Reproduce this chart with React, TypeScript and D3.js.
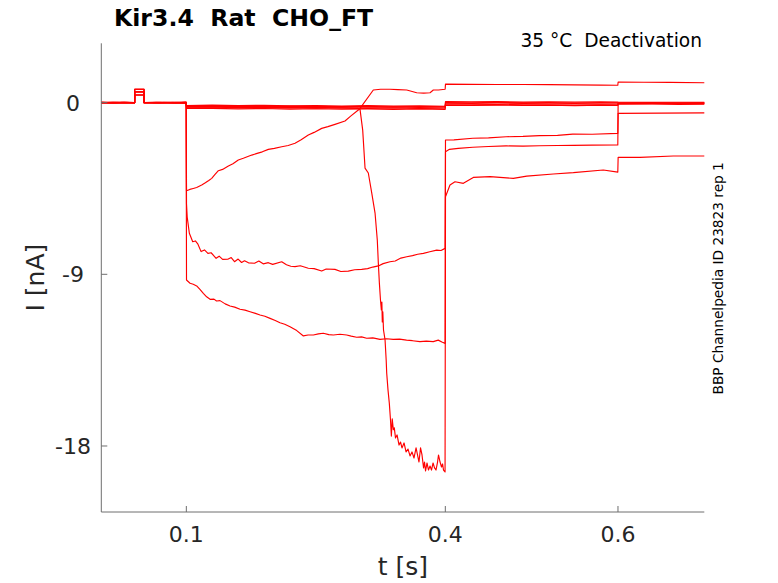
import React from "react";
import * as d3 from "d3";

// ---- data (t in s, I in nA) ----
const xTicks = [0.1, 0.4, 0.6];
const yTicks = [-18, -9, 0];

const trace1: [number, number][] = [
  [0.0015, 0.01], [0.012, -0.02], [0.025, 0.02], [0.0401, 0.0], [0.0402, 0.7], [0.051, 0.7], [0.0511, 0.01],
  [0.062, -0.02], [0.075, 0.02], [0.088, -0.01], [0.0998, 0.01],
  [0.1002, -4.62], [0.104, -4.55], [0.108, -4.5], [0.112, -4.45], [0.1178, -4.32], [0.122, -4.2], [0.126, -4.08],
  [0.1294, -3.97], [0.133, -3.78], [0.1371, -3.57], [0.142, -3.5], [0.1487, -3.32], [0.154, -3.2], [0.1602, -3.01],
  [0.166, -2.92], [0.1758, -2.75], [0.182, -2.66], [0.188, -2.58], [0.195, -2.45], [0.202, -2.4], [0.2105, -2.31],
  [0.218, -2.25], [0.2259, -2.13], [0.233, -1.95], [0.2413, -1.7], [0.248, -1.56], [0.2568, -1.35], [0.264, -1.26],
  [0.2722, -1.14], [0.2838, -0.96], [0.29, -0.72], [0.2992, -0.39], [0.3012, -0.3], [0.3166, 0.66], [0.325, 0.7],
  [0.3359, 0.7], [0.345, 0.68], [0.3553, 0.66], [0.3669, 0.52], [0.375, 0.5], [0.3823, 0.52], [0.3861, 0.66],
  [0.392, 0.66], [0.3998, 0.7],
  [0.4002, 0.97], [0.43, 0.96], [0.46, 0.95], [0.49, 0.95], [0.52, 0.94], [0.55, 0.93], [0.58, 0.92], [0.5998, 0.91],
  [0.6002, 1.08], [0.63, 1.07], [0.66, 1.06], [0.7, 1.04],
];

const traceB: [number, number][] = [
  [0.0015, -0.01], [0.015, 0.02], [0.03, -0.01], [0.0401, 0.01], [0.0402, 0.56], [0.051, 0.56], [0.0511, 0.0],
  [0.065, 0.02], [0.08, -0.02], [0.0998, 0.0],
  [0.1002, -5.3], [0.101, -6.0], [0.1035, -6.85], [0.1074, -7.29], [0.1105, -7.25], [0.1132, -7.4], [0.1171, -7.81],
  [0.121, -7.72], [0.125, -7.9], [0.1287, -7.87], [0.1345, -8.16], [0.138, -8.05], [0.142, -8.22], [0.148, -8.21],
  [0.152, -8.12], [0.1558, -8.34], [0.16, -8.2], [0.164, -8.38], [0.1674, -8.29], [0.172, -8.4], [0.179, -8.42],
  [0.184, -8.3], [0.189, -8.45], [0.195, -8.39], [0.2, -8.48], [0.2105, -8.34], [0.216, -8.5], [0.221, -8.58],
  [0.2259, -8.6], [0.232, -8.55], [0.2413, -8.68], [0.248, -8.7], [0.2568, -8.83], [0.262, -8.72], [0.2722, -8.74],
  [0.279, -8.85], [0.2876, -8.83], [0.295, -8.76], [0.3031, -8.74], [0.31, -8.7], [0.316, -8.62], [0.3224, -8.56],
  [0.328, -8.44], [0.3359, -8.34], [0.342, -8.3], [0.3485, -8.15], [0.3553, -8.08], [0.362, -8.02], [0.368, -7.95],
  [0.3746, -7.9], [0.382, -7.82], [0.39, -7.73], [0.395, -7.75], [0.3998, -7.64],
  [0.4002, -1.96], [0.41, -1.95], [0.4318, -1.87], [0.45, -1.85], [0.4705, -1.79], [0.49, -1.77], [0.5091, -1.73],
  [0.53, -1.72], [0.5477, -1.65], [0.57, -1.66], [0.5998, -1.61],
  [0.6002, -0.03], [0.65, -0.04], [0.7, -0.02],
];

const traceA: [number, number][] = [
  [0.0015, 0.0], [0.014, -0.02], [0.028, 0.01], [0.0401, -0.01], [0.0402, 0.4], [0.051, 0.4], [0.0511, 0.01],
  [0.068, -0.01], [0.084, 0.02], [0.0998, -0.01],
  [0.1002, -9.3], [0.1043, -9.47], [0.108, -9.52], [0.112, -9.61], [0.116, -9.8], [0.1197, -10.0], [0.1235, -10.18],
  [0.1275, -10.31], [0.132, -10.3], [0.135, -10.4], [0.139, -10.38], [0.145, -10.55], [0.1506, -10.66], [0.156, -10.72],
  [0.1622, -10.83], [0.168, -10.88], [0.1738, -10.96], [0.18, -11.05], [0.1854, -11.13], [0.191, -11.2], [0.197, -11.31],
  [0.203, -11.42], [0.2085, -11.54], [0.214, -11.62], [0.2201, -11.75], [0.2279, -11.95], [0.2356, -12.23],
  [0.241, -12.18], [0.2471, -12.18], [0.253, -12.12], [0.2587, -12.09], [0.265, -12.16], [0.2703, -12.18],
  [0.278, -12.14], [0.2857, -12.18], [0.291, -12.24], [0.2973, -12.3], [0.303, -12.28], [0.3089, -12.35],
  [0.316, -12.33], [0.3243, -12.41], [0.332, -12.38], [0.3397, -12.41], [0.347, -12.4], [0.3551, -12.45],
  [0.362, -12.48], [0.3706, -12.53], [0.378, -12.5], [0.386, -12.53], [0.3918, -12.45], [0.396, -12.55], [0.3998, -12.62],
  [0.4002, -2.57], [0.4048, -2.45], [0.415, -2.4], [0.4318, -2.34], [0.45, -2.3], [0.4705, -2.27], [0.49, -2.28],
  [0.5091, -2.26], [0.53, -2.25], [0.5477, -2.24], [0.57, -2.23], [0.5998, -2.22],
  [0.6002, -0.56], [0.65, -0.55], [0.7, -0.54],
];

const traceC: [number, number][] = [
  [0.0015, 0.02], [0.016, -0.01], [0.03, 0.01], [0.0401, 0.0], [0.0402, 0.7], [0.051, 0.7], [0.0511, -0.01],
  [0.07, 0.01], [0.085, -0.02], [0.0998, 0.01],
  [0.1002, -0.24], [0.13, -0.22], [0.16, -0.26], [0.19, -0.24], [0.22, -0.27], [0.25, -0.25], [0.28, -0.28], [0.2985, -0.3],
  [0.3012, -0.35], [0.3043, -1.44], [0.307, -3.43], [0.3108, -3.69], [0.3148, -4.74], [0.3186, -5.79], [0.3212, -7.2],
  [0.3224, -8.41], [0.3236, -9.45], [0.3249, -10.35], [0.3259, -10.87], [0.3265, -10.45], [0.327, -11.5], [0.3276, -10.97],
  [0.3284, -11.92], [0.3302, -12.44], [0.3315, -13.49], [0.3321, -14.17], [0.3336, -15.06], [0.3351, -15.74],
  [0.3365, -16.64], [0.3375, -17.48], [0.3385, -16.58], [0.3398, -17.15], [0.3409, -17.05], [0.3423, -17.58],
  [0.3441, -17.42], [0.3464, -17.95], [0.3481, -17.79], [0.3498, -18.1], [0.3522, -17.84], [0.3545, -18.31],
  [0.3568, -18.16], [0.3591, -18.52], [0.3614, -18.31], [0.3637, -18.63], [0.3661, -18.1], [0.3678, -18.47],
  [0.3695, -18.84], [0.3713, -18.1], [0.373, -18.47], [0.3748, -19.15], [0.3759, -18.84], [0.3771, -19.31],
  [0.3788, -18.89], [0.3805, -19.26], [0.3823, -19.05], [0.384, -19.26], [0.3858, -18.89], [0.3875, -19.15],
  [0.3892, -19.26], [0.391, -18.84], [0.3921, -18.47], [0.3939, -18.84], [0.3956, -19.1], [0.3968, -18.94],
  [0.3979, -19.26], [0.3997, -19.36],
  [0.4002, -4.93], [0.4054, -4.32], [0.4112, -4.15], [0.4209, -4.23], [0.4324, -3.92], [0.4518, -3.88],
  [0.4788, -3.97], [0.4943, -3.85], [0.5251, -3.74], [0.5483, -3.67], [0.583, -3.53], [0.5998, -3.64],
  [0.6002, -2.87], [0.6255, -2.87], [0.6641, -2.8], [0.7, -2.8],
];

const bundle1: [number, number][] = [
  [0.0015, 0.0], [0.02, 0.02], [0.0401, 0.0], [0.0402, 0.7], [0.051, 0.7], [0.0511, 0.01], [0.07, -0.01], [0.0998, 0.02],
  [0.1002, -0.15], [0.13, -0.13], [0.16, -0.16], [0.19, -0.14], [0.22, -0.17], [0.25, -0.15], [0.28, -0.18], [0.31, -0.16],
  [0.34, -0.18], [0.37, -0.17], [0.3998, -0.19],
  [0.4002, 0.05], [0.43, 0.04], [0.46, 0.05], [0.49, 0.03], [0.52, 0.04], [0.55, 0.03], [0.58, 0.04], [0.5998, 0.03],
  [0.6002, 0.02], [0.64, 0.01], [0.67, 0.02], [0.7, 0.01],
];

const bundle2: [number, number][] = [
  [0.0015, -0.02], [0.02, 0.0], [0.0401, -0.01], [0.0402, 0.56], [0.051, 0.56], [0.0511, 0.0], [0.07, 0.02], [0.0998, -0.01],
  [0.1002, -0.2], [0.13, -0.22], [0.16, -0.19], [0.19, -0.22], [0.22, -0.2], [0.25, -0.23], [0.28, -0.21], [0.31, -0.24],
  [0.34, -0.22], [0.37, -0.25], [0.3998, -0.23],
  [0.4002, 0.0], [0.43, -0.01], [0.46, 0.01], [0.49, -0.01], [0.52, 0.0], [0.55, -0.02], [0.58, 0.0], [0.5998, -0.01],
  [0.6002, -0.02], [0.64, -0.03], [0.67, -0.02], [0.7, -0.03],
];

const bundle3: [number, number][] = [
  [0.0015, 0.01], [0.02, -0.01], [0.0401, 0.01], [0.0402, 0.4], [0.051, 0.4], [0.0511, -0.01], [0.07, 0.0], [0.0998, 0.01],
  [0.1002, -0.26], [0.13, -0.28], [0.16, -0.25], [0.19, -0.28], [0.22, -0.26], [0.25, -0.29], [0.28, -0.27], [0.31, -0.3],
  [0.34, -0.28], [0.37, -0.31], [0.3998, -0.29],
  [0.4002, -0.06], [0.43, -0.05], [0.46, -0.07], [0.49, -0.05], [0.52, -0.06], [0.55, -0.05], [0.58, -0.07], [0.5998, -0.06],
  [0.6002, -0.05], [0.64, -0.06], [0.67, -0.05], [0.7, -0.06],
];

const bundle4: [number, number][] = [
  [0.0015, 0.0], [0.02, 0.01], [0.0401, -0.01], [0.0402, 0.56], [0.051, 0.56], [0.0511, 0.0], [0.07, -0.02], [0.0998, 0.0],
  [0.1002, -0.31], [0.13, -0.3], [0.16, -0.33], [0.19, -0.31], [0.22, -0.34], [0.25, -0.32], [0.28, -0.34], [0.31, -0.33],
  [0.34, -0.35], [0.37, -0.33], [0.3998, -0.36],
  [0.4002, -0.11], [0.43, -0.12], [0.46, -0.1], [0.49, -0.12], [0.52, -0.11], [0.55, -0.13], [0.58, -0.11], [0.5998, -0.12],
  [0.6002, -0.08], [0.64, -0.07], [0.67, -0.09], [0.7, -0.08],
];

const bundle5: [number, number][] = [
  [0.0015, 0.02], [0.02, 0.0], [0.0401, 0.02], [0.0402, 0.4], [0.051, 0.4], [0.0511, 0.02], [0.07, 0.0], [0.0998, 0.02],
  [0.1002, -0.18], [0.13, -0.2], [0.16, -0.18], [0.19, -0.21], [0.22, -0.19], [0.25, -0.2], [0.28, -0.22], [0.31, -0.2],
  [0.34, -0.23], [0.37, -0.21], [0.3998, -0.22],
  [0.4002, -0.14], [0.43, -0.15], [0.46, -0.13], [0.49, -0.15], [0.52, -0.14], [0.55, -0.16], [0.58, -0.14], [0.5998, -0.15],
  [0.6002, -0.03], [0.64, -0.04], [0.67, -0.02], [0.7, -0.03],
];

const traces = [bundle1, bundle2, bundle3, bundle4, bundle5, trace1, traceB, traceA, traceC];

// ---- layout ----
const W = 778;
const H = 583;
const left = 101.3;
const right = 704.3;
const top = 43.3;
const bottom = 512;

const x = d3.scaleLinear().domain([0.0015, 0.7]).range([left, right]);
const y = d3.scaleLinear().domain([-21.46, 3.11]).range([bottom, top]);

const line = d3
  .line<[number, number]>()
  .x((d) => x(d[0]))
  .y((d) => y(d[1]));

const axisColor = "#6e6e6e";
const textColor = "#262626";
const font = "DejaVu Sans";

export default function App() {
  return (
    <svg
      width={W}
      height={H}
      viewBox={`0 0 ${W} ${H}`}
      style={{ position: "absolute", left: 0, top: 0, background: "#fff" }}
      fontFamily={font}
    >
      <rect x={0} y={0} width={W} height={H} fill="#fff" />
      <g>
        {traces.map((tr, i) => (
          <path key={i} d={line(tr) || ""} fill="none" stroke="#ff0000" strokeWidth={1.15} strokeLinejoin="round" />
        ))}
      </g>
      {/* axes */}
      <line x1={left} y1={top} x2={left} y2={bottom} stroke={axisColor} strokeWidth={1} />
      <line x1={left} y1={bottom} x2={right} y2={bottom} stroke={axisColor} strokeWidth={1} />
      {xTicks.map((t) => (
        <g key={"x" + t}>
          <line x1={x(t)} x2={x(t)} y1={bottom} y2={bottom - 6} stroke={axisColor} />
          <text x={x(t)} y={542} textAnchor="middle" fontSize={22} fill={textColor}>
            {String(t)}
          </text>
        </g>
      ))}
      {yTicks.map((v) => (
        <g key={"y" + v}>
          <line x1={left} x2={left + 6} y1={y(v)} y2={y(v)} stroke={axisColor} />
          <text x={73} y={y(v) + 8} textAnchor="middle" fontSize={22} fill={textColor}>
            {String(v)}
          </text>
        </g>
      ))}
      <text x={(left + right) / 2} y={575} textAnchor="middle" fontSize={25} fill={textColor} style={{ whiteSpace: "pre" }}>
        t [s]
      </text>
      <text
        transform={`translate(44, ${(top + bottom) / 2}) rotate(-90)`}
        textAnchor="middle"
        fontSize={25}
        fill={textColor}
        style={{ whiteSpace: "pre" }}
      >
        I [nA]
      </text>
      <text x={114} y={26} fontSize={23.6} fontWeight="bold" fill="#000" style={{ whiteSpace: "pre" }}>
        {"Kir3.4  Rat  CHO_FT"}
      </text>
      <text x={702} y={46.5} textAnchor="end" fontSize={18.6} fill="#000" style={{ whiteSpace: "pre" }}>
        {"35 °C  Deactivation"}
      </text>
      <text
        transform={`translate(722.5, 278.3) rotate(-90)`}
        textAnchor="middle"
        fontSize={13.7}
        fill="#000"
        style={{ whiteSpace: "pre" }}
      >
        BBP Channelpedia ID 23823 rep 1
      </text>
    </svg>
  );
}
